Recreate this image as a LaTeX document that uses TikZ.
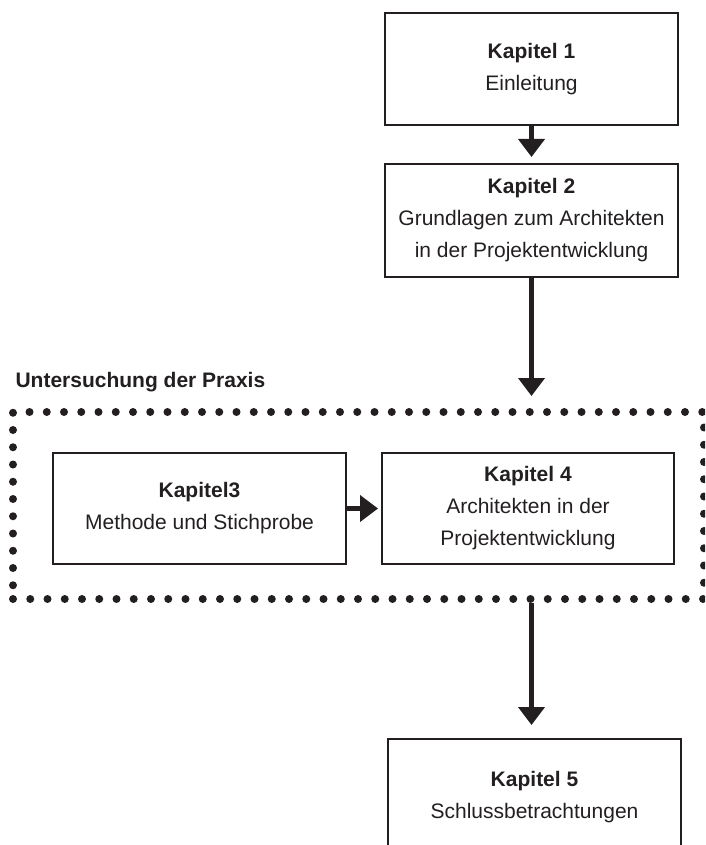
\documentclass[tikz,border=0pt]{standalone}
\usepackage{fontspec}
\setmainfont{Liberation Sans}
\usetikzlibrary{arrows.meta,calc}
\definecolor{ink}{RGB}{35,31,32}
\tikzset{
  chapbox/.style={draw=ink, line width=2pt, minimum width=293pt, minimum height=112pt,
    inner sep=0pt, align=center, text=ink, font=\fontsize{21}{32}\selectfont},
  flow/.style={draw=ink, line width=4.2pt, -{Triangle[width=26pt,length=18pt]}},
  dotframe/.style={draw=ink, line width=8pt, line cap=round, dash pattern=on 0pt off 17.25pt,
    minimum width=691pt, minimum height=187pt, inner sep=0pt},
}
\begin{document}
\begin{tikzpicture}[x=1pt,y=-1pt]
  \useasboundingbox (0,0) rectangle (705,845);
  \clip (0,0) rectangle (705,845);

  % frame around the practical part
  \node[dotframe] (frame) at (358.5,505.5) {};
  \node[anchor=base west, text=ink, font=\fontsize{21}{32}\selectfont\bfseries]
    (praxis) at (12,387) {Untersuchung der Praxis};

  % chapters
  \node[chapbox] (k1) at (531.5,69)  {\textbf{Kapitel 1}\\Einleitung};
  \node[chapbox, minimum height=113pt] (k2) at (531.5,220.5)
    {\textbf{Kapitel 2}\\Grundlagen zum Architekten\\in der Projektentwicklung};
  \node[chapbox, minimum height=111pt] (k3) at (199.5,508.5)
    {\textbf{Kapitel3}\\Methode und Stichprobe};
  \node[chapbox, minimum width=292pt, minimum height=111pt] (k4) at (528,508.5)
    {\textbf{Kapitel 4}\\Architekten in der\\Projektentwicklung};
  \node[chapbox, minimum height=116pt] (k5) at (534.5,797)
    {\textbf{Kapitel 5}\\Schlussbetrachtungen};

  % reading order
  \draw[flow, shorten >=6pt] (k1.south) -- (k2.north);
  \draw[flow, shorten >=12pt] (k2.south) -- (k2.south |- frame.north);
  \draw[flow, shorten >=3pt] (k3.east) -- (k4.west);
  \draw[flow, shorten >=13pt] (k2.south |- frame.south) -- (k2.south |- k5.north);
\end{tikzpicture}
\end{document}
